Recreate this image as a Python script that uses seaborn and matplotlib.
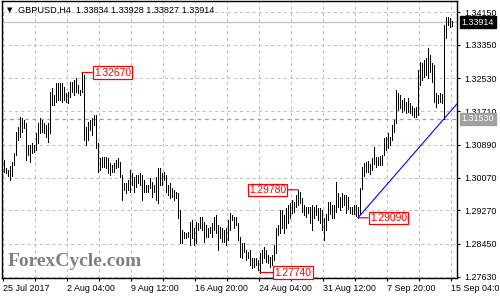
import numpy as np
import pandas as pd
import matplotlib
matplotlib.use("Agg")
import matplotlib.pyplot as plt
import matplotlib.transforms as mtransforms
import seaborn as sns

# ---------------- data ----------------
highs = [
    1.3051, 1.3032, 1.3027, 1.3037, 1.3046, 1.3069, 1.3120, 1.3133, 1.3157, 1.3155,
    1.3150, 1.3143, 1.3088, 1.3088, 1.3093, 1.3088, 1.3118, 1.3143, 1.3155, 1.3150,
    1.3143, 1.3138, 1.3143, 1.3219, 1.3229, 1.3212, 1.3241, 1.3241, 1.3241, 1.3241,
    1.3231, 1.3217, 1.3219, 1.3244, 1.3244, 1.3249, 1.3254, 1.3236, 1.3224, 1.3267,
    1.3261, 1.3133, 1.3145, 1.3150, 1.3155, 1.3162, 1.3162, 1.3093, 1.3056, 1.3059,
    1.3059, 1.3059, 1.3056, 1.3044, 1.3039, 1.3044, 1.3051, 1.3056, 1.3046, 1.3014,
    1.2995, 1.2995, 1.3002, 1.3027, 1.3019, 1.3010, 1.3014, 1.3014, 1.3019, 1.3014,
    1.3002, 1.2990, 1.2990, 1.3007, 1.2997, 1.2990, 1.3010, 1.3032, 1.3032, 1.3019,
    1.3022, 1.3014, 1.2990, 1.2995, 1.2982, 1.2978, 1.2973, 1.2970, 1.2928, 1.2879,
    1.2874, 1.2871, 1.2874, 1.2899, 1.2904, 1.2884, 1.2899, 1.2896, 1.2911, 1.2911,
    1.2899, 1.2891, 1.2884, 1.2886, 1.2896, 1.2911, 1.2916, 1.2891, 1.2886, 1.2884,
    1.2879, 1.2884, 1.2904, 1.2921, 1.2916, 1.2911, 1.2911, 1.2896, 1.2862, 1.2847,
    1.2847, 1.2830, 1.2825, 1.2830, 1.2810, 1.2810, 1.2810, 1.2805, 1.2822, 1.2830,
    1.2837, 1.2830, 1.2817, 1.2812, 1.2817, 1.2842, 1.2884, 1.2891, 1.2928, 1.2928,
    1.2916, 1.2933, 1.2940, 1.2945, 1.2953, 1.2948, 1.2965, 1.2978, 1.2973, 1.2958,
    1.2940, 1.2936, 1.2936, 1.2936, 1.2940, 1.2936, 1.2940, 1.2933, 1.2933, 1.2928,
    1.2909, 1.2918, 1.2948, 1.2948, 1.2940, 1.2940, 1.2997, 1.2970, 1.2960, 1.2970,
    1.2965, 1.2965, 1.2960, 1.2936, 1.2936, 1.2940, 1.2940, 1.2936, 1.2982, 1.3034,
    1.3044, 1.3046, 1.3049, 1.3042, 1.3056, 1.3083, 1.3059, 1.3059, 1.3061, 1.3064,
    1.3106, 1.3108, 1.3118, 1.3108, 1.3138, 1.3150, 1.3224, 1.3217, 1.3212, 1.3199,
    1.3204, 1.3194, 1.3204, 1.3192, 1.3185, 1.3180, 1.3182, 1.3273, 1.3293, 1.3291,
    1.3298, 1.3303, 1.3327, 1.3310, 1.3291, 1.3286, 1.3217, 1.3212, 1.3217, 1.3214,
    1.3384, 1.3404, 1.3404, 1.3401, 1.33928,
]
lows = [
    1.3022, 1.3019, 1.3012, 1.3002, 1.3012, 1.3039, 1.3064, 1.3101, 1.3108, 1.3120,
    1.3130, 1.3051, 1.3064, 1.3046, 1.3069, 1.3071, 1.3076, 1.3093, 1.3118, 1.3120,
    1.3118, 1.3108, 1.3096, 1.3118, 1.3187, 1.3187, 1.3194, 1.3199, 1.3199, 1.3194,
    1.3199, 1.3194, 1.3192, 1.3207, 1.3219, 1.3212, 1.3219, 1.3217, 1.3212, 1.3219,
    1.3101, 1.3088, 1.3101, 1.3125, 1.3113, 1.3138, 1.3081, 1.3022, 1.3027, 1.3034,
    1.3034, 1.3032, 1.3019, 1.3014, 1.3022, 1.3022, 1.3032, 1.3034, 1.3010, 1.2953,
    1.2978, 1.2970, 1.2978, 1.2973, 1.2990, 1.2973, 1.2985, 1.2995, 1.2990, 1.2953,
    1.2973, 1.2973, 1.2973, 1.2982, 1.2960, 1.2973, 1.2953, 1.2945, 1.2990, 1.2990,
    1.3002, 1.2973, 1.2965, 1.2958, 1.2960, 1.2953, 1.2958, 1.2909, 1.2847, 1.2847,
    1.2859, 1.2859, 1.2862, 1.2842, 1.2859, 1.2842, 1.2847, 1.2879, 1.2884, 1.2879,
    1.2849, 1.2862, 1.2862, 1.2871, 1.2862, 1.2879, 1.2871, 1.2830, 1.2859, 1.2849,
    1.2849, 1.2842, 1.2854, 1.2879, 1.2904, 1.2884, 1.2891, 1.2854, 1.2812, 1.2810,
    1.2825, 1.2805, 1.2810, 1.2793, 1.2785, 1.2788, 1.2793, 1.2780, 1.2774, 1.2798,
    1.2810, 1.2800, 1.2798, 1.2788, 1.2793, 1.2805, 1.2822, 1.2867, 1.2871, 1.2884,
    1.2871, 1.2884, 1.2896, 1.2909, 1.2921, 1.2923, 1.2936, 1.2940, 1.2945, 1.2923,
    1.2916, 1.2911, 1.2921, 1.2896, 1.2879, 1.2909, 1.2916, 1.2904, 1.2896, 1.2879,
    1.2854, 1.2879, 1.2904, 1.2918, 1.2909, 1.2909, 1.2923, 1.2936, 1.2928, 1.2936,
    1.2940, 1.2921, 1.2931, 1.2921, 1.2918, 1.2918, 1.2913, 1.2909, 1.2918, 1.2980,
    1.3012, 1.3022, 1.3022, 1.3017, 1.3027, 1.3042, 1.3034, 1.3039, 1.3039, 1.3039,
    1.3064, 1.3076, 1.3081, 1.3088, 1.3101, 1.3120, 1.3143, 1.3175, 1.3180, 1.3170,
    1.3175, 1.3167, 1.3170, 1.3167, 1.3162, 1.3157, 1.3157, 1.3162, 1.3236, 1.3249,
    1.3256, 1.3261, 1.3254, 1.3268, 1.3244, 1.3194, 1.3182, 1.3192, 1.3194, 1.3192,
    1.3153, 1.3352, 1.3384, 1.3379, 1.33827,
]
title_text = "GBPUSD,H4  1.33834 1.33928 1.33827 1.33914"
current_price = 1.33914
ytick_values = [1.27630, 1.28450, 1.29270, 1.30070, 1.30890, 1.31710, 1.32530, 1.33350, 1.34150]
xtick_labels = ["25 Jul 2017", "2 Aug 04:00", "9 Aug 12:00", "16 Aug 20:00",
                "24 Aug 04:00", "31 Aug 12:00", "7 Sep 20:00", "15 Sep 04:00"]
# marked swing points
swing_bars = [39, 147, 128, 177]
swing_prices = [1.32670, 1.29780, 1.27740, 1.29090]
swing_labels = ["1.32670", "1.29780", "1.27740", "1.29090"]
swing_sides = ["right", "left", "right", "right"]
trend_bars = [177, 220]
trend_prices = [1.29090, 1.31530]
support_price = 1.31530

# ---------------- style ----------------
sns.set_theme(style="white")
plt.rcParams["font.family"] = ["Liberation Sans", "DejaVu Sans"]
plt.rcParams["font.size"] = 6.4

fig = plt.figure(figsize=(5, 3), dpi=100)
fig.patch.set_facecolor("white")
ax = fig.add_axes([2 / 500, 22 / 300, 455 / 500, 277 / 300])
ax.set_facecolor("white")

xmin, xmax = -1.0, 226.5
ymin, ymax = 1.27605, 1.34433
ax.set_xlim(xmin, xmax)
ax.set_ylim(ymin, ymax)

# grid
grid_x = [-0.5 + 16 * k for k in range(15)]
for gx in grid_x:
    ax.axvline(gx, color="#c0c0c0", lw=0.75, ls=(0, (3, 3)), zorder=0)
for gy in ytick_values:
    ax.axhline(gy, color="#c0c0c0", lw=0.75, ls=(0, (3, 3)), zorder=0)

# price lines
ax.axhline(current_price, color="#c0c0c0", lw=0.9, zorder=1)
ax.axhline(support_price, color="#a0a0a0", lw=0.9, ls=(0, (3, 3)), zorder=1)

# OHLC bars (high-low verticals)
bars = np.arange(len(highs))
df = pd.DataFrame({
    "bar": np.repeat(bars, 2),
    "price": np.column_stack([highs, lows]).ravel(),
})
sns.lineplot(data=df, x="bar", y="price", units="bar", estimator=None,
             color="black", lw=0.72, sort=False, legend=False, ax=ax,
             antialiased=False, zorder=3)

# trend line (ray to right edge)
slope = (trend_prices[1] - trend_prices[0]) / (trend_bars[1] - trend_bars[0])
tdf = pd.DataFrame({"bar": [trend_bars[0], xmax],
                    "price": [trend_prices[0], trend_prices[0] + slope * (xmax - trend_bars[0])]})
sns.lineplot(data=tdf, x="bar", y="price", color="#0000ff", lw=0.8, ax=ax,
             legend=False, zorder=4)

# swing labels
for b, p, lab, side in zip(swing_bars, swing_prices, swing_labels, swing_sides):
    off = 8.5 if side == "right" else -8.5
    if lab == "1.27740":
        off = 10.5
    ax.annotate(lab, xy=(b, p), xytext=(off, 0), textcoords="offset points",
                ha="left" if side == "right" else "right", va="center",
                fontsize=7.4, color="#ff0000",
                bbox=dict(boxstyle="square,pad=0.12", fc="white", ec="#ff0000", lw=0.9),
                arrowprops=dict(arrowstyle="-", color="#ff0000", lw=0.9,
                                shrinkA=0, shrinkB=0),
                zorder=6)

# axes spines
for s in ax.spines.values():
    s.set_color("black")
    s.set_linewidth(1.0)

# ticks
ax.set_xticks(grid_x)
ax.set_xticklabels([xtick_labels[k // 2] if k % 2 == 0 else "" for k in range(15)])
for lab in ax.get_xticklabels():
    lab.set_horizontalalignment("left")
ax.yaxis.tick_right()
ax.set_yticks(ytick_values)
ax.set_yticklabels([f"{v:.5f}" for v in ytick_values])
ax.tick_params(axis="x", bottom=True, length=2.5, width=0.8, pad=2.0,
               labelsize=6.4, colors="black", direction="out")
ax.tick_params(axis="y", right=True, left=False, length=2.5, width=0.8, pad=2.5,
               labelsize=6.4, colors="black", direction="out")
ax.set_xlabel("")
ax.set_ylabel("")

# right-axis price tags
trans = mtransforms.blended_transform_factory(ax.transAxes, ax.transData)
ax.text(1.0105, current_price, f"{current_price:.5f}", transform=trans,
        ha="left", va="center", fontsize=6.4, color="white",
        bbox=dict(boxstyle="square,pad=0.18", fc="black", ec="black"),
        clip_on=False, zorder=7)
ax.text(1.0105, support_price, f"{support_price:.5f}", transform=trans,
        ha="left", va="center", fontsize=6.4, color="white",
        bbox=dict(boxstyle="square,pad=0.18", fc="#a0a0a0", ec="#a0a0a0"),
        clip_on=False, zorder=7)

# title
ax.text(0.011, 0.968, "\u25BC", transform=ax.transAxes, ha="left", va="center",
        fontsize=5, color="black", family=["DejaVu Sans"])
ax.text(0.035, 0.968, title_text, transform=ax.transAxes, ha="left", va="center",
        fontsize=6.6, color="black")

# watermark
ax.text(0.013, 0.043, "ForexCycle.com", transform=ax.transAxes, ha="left",
        va="baseline", fontsize=14, fontweight="bold", color="#808080",
        family=["Liberation Serif", "DejaVu Serif"], zorder=2)

fig.savefig("out.png", dpi=100, facecolor="white")
